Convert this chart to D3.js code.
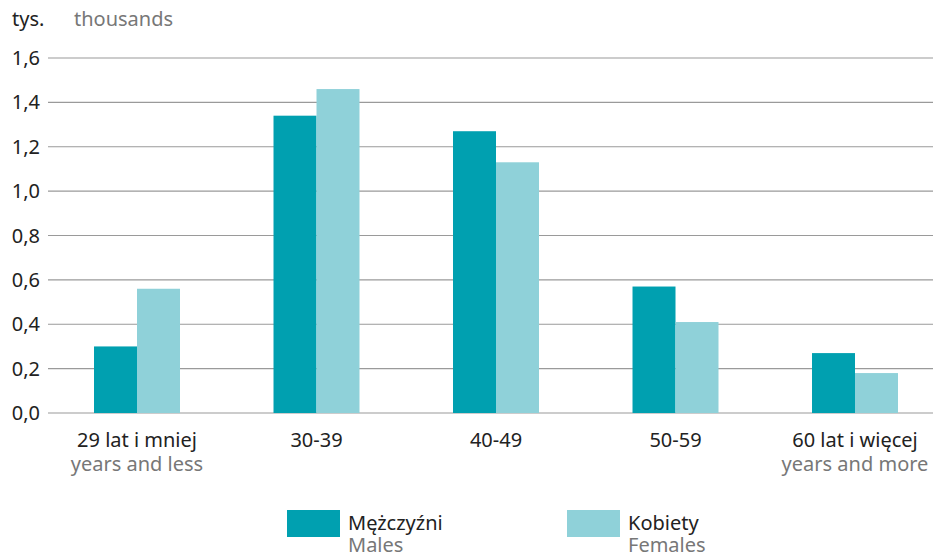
<!DOCTYPE html>
<html><head><meta charset="utf-8">
<script src="https://cdn.jsdelivr.net/npm/d3@7"></script>
<style>body{margin:0;background:#fff}svg{display:block;font-family:"Noto Sans",sans-serif}</style>
</head><body><svg id="c" width="933" height="556"></svg>
<script>
const categoriesPl = ["29 lat i mniej", "30-39", "40-49", "50-59", "60 lat i więcej"];
const categoriesEn = ["years and less", "", "", "", "years and more"];
const males = [0.30, 1.34, 1.27, 0.57, 0.27];
const females = [0.56, 1.46, 1.13, 0.41, 0.18];
const yTicks = [0, 0.2, 0.4, 0.6, 0.8, 1.0, 1.2, 1.4, 1.6];
const seriesNamesPl = ["Mężczyźni", "Kobiety"];
const seriesNamesEn = ["Males", "Females"];
const colors = ["#00A0B0", "#8FD1D9"];

const svg = d3.select("#c");
const L = 48, R = 933, T = 58, B = 413;
const x = d3.scaleBand().domain(categoriesPl).range([47.25, 944.75]).paddingInner(0.521).paddingOuter(0.2605);
const y = d3.scaleLinear().domain([0, 1.6]).range([B, T]);
const fmt = v => d3.format(".1f")(v).replace(".", ",");
const FS = 20;

svg.append("g").selectAll("line").data(yTicks).join("line")
  .attr("x1", L).attr("x2", R).attr("y1", d => y(d)).attr("y2", d => y(d))
  .attr("stroke", "#9a9a9a").attr("stroke-width", 1.2);
svg.append("g").selectAll("text").data(yTicks).join("text")
  .attr("x", 40).attr("y", d => y(d) + 7).attr("text-anchor", "end")
  .attr("font-size", FS).attr("fill", "#222").text(fmt);

const bw = x.bandwidth() / 2;
const data = [males, females];
data.forEach((arr, si) => {
  svg.append("g").selectAll("rect").data(arr).join("rect")
    .attr("x", (d, i) => x(categoriesPl[i]) + si * bw)
    .attr("y", d => y(d)).attr("width", bw).attr("height", d => y(0) - y(d))
    .attr("fill", colors[si]);
});

const lab = svg.append("g");
categoriesPl.forEach((c, i) => {
  const cx = x(c) + x.bandwidth() / 2;
  lab.append("text").attr("x", cx).attr("y", 447).attr("text-anchor", "middle")
    .attr("font-size", FS).attr("fill", "#222").text(c);
  if (categoriesEn[i]) lab.append("text").attr("x", cx).attr("y", 471).attr("text-anchor", "middle")
    .attr("font-size", FS).attr("fill", "#777").text(categoriesEn[i]);
});

svg.append("text").attr("x", 12).attr("y", 26).attr("font-size", FS).attr("fill", "#222").text("tys.");
svg.append("text").attr("x", 74).attr("y", 26).attr("font-size", FS).attr("fill", "#777").text("thousands");

const lx = [287, 567];
seriesNamesPl.forEach((n, i) => {
  svg.append("rect").attr("x", lx[i]).attr("y", 510).attr("width", 53).attr("height", 27).attr("fill", colors[i]);
  svg.append("text").attr("x", lx[i] + 61).attr("y", 530).attr("font-size", FS).attr("fill", "#222").text(n);
  svg.append("text").attr("x", lx[i] + 61).attr("y", 552).attr("font-size", FS).attr("fill", "#777").text(seriesNamesEn[i]);
});
</script></body></html>
